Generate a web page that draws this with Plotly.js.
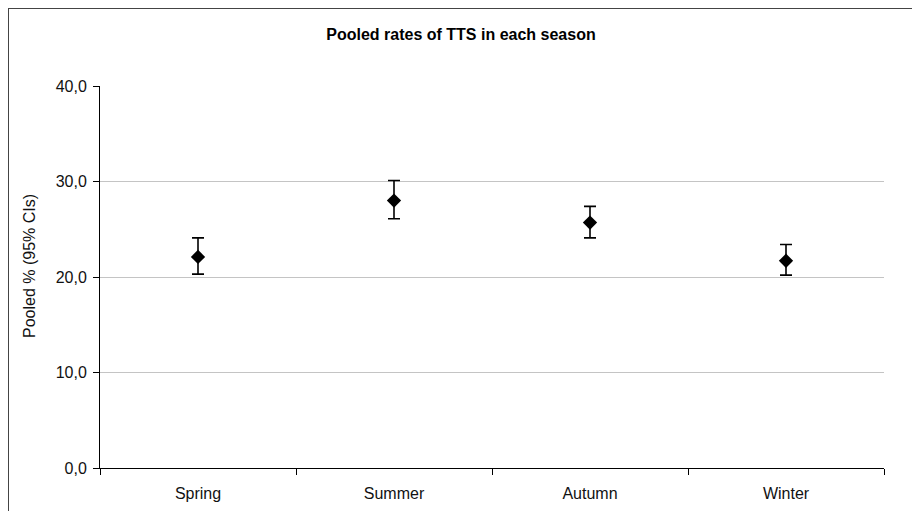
<!DOCTYPE html>
<html>
<head>
<meta charset="utf-8">
<script src="https://cdn.plot.ly/plotly-3.0.1.min.js"></script>
<style>
  html, body { margin: 0; padding: 0; background: #fff; }
  #wrap { position: relative; width: 912px; height: 511px; overflow: hidden; }
  #frame { position: absolute; left: 8px; top: 8px; width: 920px; height: 520px;
           border-left: 1px solid #444; border-top: 1px solid #444; pointer-events: none; }
  #chart { position: absolute; left: 0; top: 0; width: 912px; height: 511px; }
</style>
</head>
<body>
<div id="wrap">
  <div id="chart"></div>
  <div id="frame"></div>
</div>
<script>
const seasons = ["Spring", "Summer", "Autumn", "Winter"];
const pooled = [22.1, 28.0, 25.7, 21.7];
const ciLower = [20.3, 26.1, 24.1, 20.2];
const ciUpper = [24.1, 30.1, 27.4, 23.4];
const yTicks = [0, 10, 20, 30, 40];

const errPlus = pooled.map((v, i) => ciUpper[i] - v);
const errMinus = pooled.map((v, i) => v - ciLower[i]);

const trace = {
  type: "scatter",
  mode: "markers",
  x: seasons,
  y: pooled,
  marker: { symbol: "diamond", color: "#000", size: 11 },
  error_y: {
    type: "data", symmetric: false,
    array: errPlus, arrayminus: errMinus,
    color: "#000", thickness: 1.6, width: 6
  },
  showlegend: false,
  hoverinfo: "skip"
};

const font = "Arial, 'Liberation Sans', sans-serif";
const txt = "#111";

const layout = {
  width: 912, height: 511,
  margin: { l: 100, r: 28, t: 86, b: 43 },
  paper_bgcolor: "#fff", plot_bgcolor: "#fff",
  separators: ",.",
  font: { family: font, size: 16, color: txt },
  title: {
    text: "<b>Pooled rates of TTS in each season</b>",
    font: { family: font, size: 16, color: "#000" },
    x: 461 / 912, xref: "container", xanchor: "center",
    y: 1 - 34 / 511, yref: "container", yanchor: "middle"
  },
  xaxis: {
    type: "category",
    range: [-0.5, 3.5],
    tickson: "boundaries",
    ticks: "outside", ticklen: 6, tickcolor: "#000", tickwidth: 1,
    ticklabelstandoff: 11,
    showline: true, linecolor: "#000", linewidth: 1,
    showgrid: false, zeroline: false,
    tickfont: { family: font, size: 16, color: txt },
    fixedrange: true
  },
  yaxis: {
    range: [0, 40],
    tickvals: yTicks,
    tickformat: ".1f",
    ticks: "outside", ticklen: 6, tickcolor: "#000", tickwidth: 1,
    ticklabelstandoff: 3,
    showline: true, linecolor: "#000", linewidth: 1,
    showgrid: true, gridcolor: "#c4c4c4", gridwidth: 1,
    zeroline: false,
    tickfont: { family: font, size: 16, color: txt },
    fixedrange: true
  },
  annotations: [{
    text: "Pooled % (95% CIs)",
    textangle: -90,
    xref: "paper", yref: "paper",
    x: (29 - 100) / 784, y: (468 - 266) / 382,
    xanchor: "center", yanchor: "middle",
    showarrow: false,
    font: { family: font, size: 16, color: txt }
  }]
};

Plotly.newPlot("chart", [trace], layout, { displayModeBar: false, staticPlot: true });
</script>
</body>
</html>
